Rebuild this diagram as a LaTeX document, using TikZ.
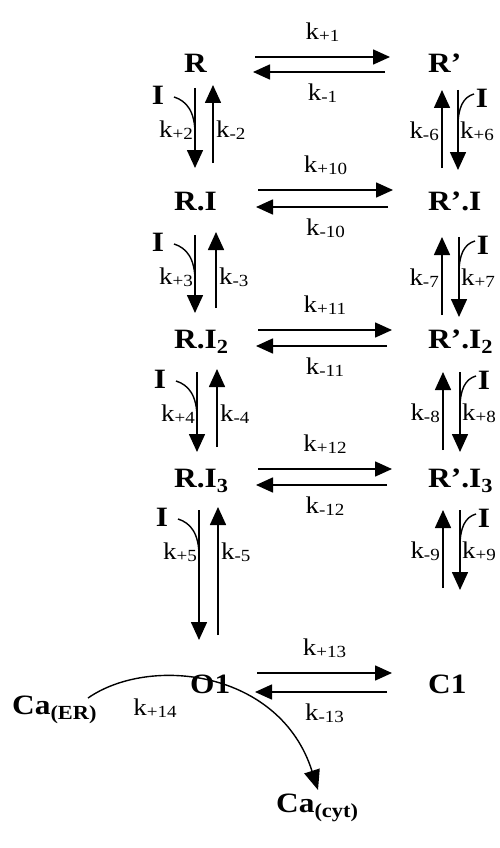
\documentclass[tikz,border=0pt]{standalone}
\usepackage{fontspec}
\setmainfont{Liberation Serif}[FakeStretch=1.12]
\usetikzlibrary{arrows.meta}

% rate constant label: k with a slightly lowered, smaller index
\newcommand\kr[1]{k\raisebox{-2pt}{\fontsize{17}{17}\selectfont #1}}
% bold subscript for species
\newcommand\sbs[1]{\raisebox{-5pt}{\fontsize{20}{20}\selectfont #1}}

\tikzset{
  species/.style={font=\fontsize{28}{28}\selectfont\bfseries, inner sep=0pt, anchor=base west},
  rate/.style={font=\fontsize{24}{24}\selectfont, inner sep=0pt},
  inhib/.style={font=\fontsize{28}{28}\selectfont\bfseries, inner sep=0pt},
  rx/.style={line width=1.6pt, -{Triangle[length=17pt,width=15pt]}},
  vx/.style={line width=1.6pt, -{Triangle[length=18pt,width=16pt]}},
  bind/.style={line width=1.4pt},
}

% vertical pair on the left column: down arrow (with I joining) and up arrow
\newcommand\leftpair[6]{% top, bottom, xdown, xup, k+, k-
  \draw[vx] (#3,#1) -- (#3,#2);
  \draw[vx] (#4,#2-5) -- (#4,#1-3);
  \draw[bind] (#3-21,#1+9) .. controls (#3-8,#1+13) and (#3,#1+24) .. (#3,#1+46);
  \node[inhib] at (#3-37,#1+7) {I};
  \node[rate, anchor=east] at (#3-2,#1+42) {\kr{#5}};
  \node[rate, anchor=west] at (#4+3,#1+42) {\kr{#6}};
}
% vertical pair on the right column: up arrow and down arrow (with I joining)
\newcommand\rightpair[6]{% top, bottom, xup, xdown, k-, k+
  \draw[vx] (#3,#2-2) -- (#3,#1);
  \draw[vx] (#4,#1) -- (#4,#2);
  \draw[bind] (#4+16,#1+4) .. controls (#4+5,#1+7) and (#4,#1+18) .. (#4,#1+36);
  \node[inhib] at (#4+24,#1+8) {I};
  \node[rate, anchor=east] at (#3-3,#1+41) {\kr{#5}};
  \node[rate, anchor=west] at (#4+2,#1+41) {\kr{#6}};
}
% pair of opposite horizontal arrows between two species
\newcommand\hpair[6]{% ytop, ybottom, x1, x2, k+, k-
  \draw[rx] (#3,#1) -- (#4,#1);
  \draw[rx] (#4-5,#2) -- (#3-2,#2);
  \node[rate] at ({(#3+#4)/2},#1-25) {\kr{#5}};
  \node[rate] at ({(#3+#4)/2},#2+21) {\kr{#6}};
}

\begin{document}
\begin{tikzpicture}[x=1pt,y=-1pt]
\useasboundingbox (0,0) rectangle (500,848);

% species
\node[species] (R)    at (184,73)  {R};
\node[species] (Rp)   at (428,73)  {R’};
\node[species] (RI)   at (174,210) {R.I};
\node[species] (RpI)  at (428,210) {R’.I};
\node[species] (RI2)  at (174,348) {R.I\sbs{2}};
\node[species] (RpI2) at (428,348) {R’.I\sbs{2}};
\node[species] (RI3)  at (174,487) {R.I\sbs{3}};
\node[species] (RpI3) at (428,487) {R’.I\sbs{3}};
\node[species] (O1)   at (190,693) {O1};
\node[species] (C1)   at (428,693) {C1};
\node[species] (CaER) at (12,714)  {Ca\sbs{(ER)}};
\node[species] (Cacyt) at (276,812) {Ca\sbs{(cyt)}};

% horizontal equilibria
\hpair{57}{72}{255}{390}{+1}{-1}
\hpair{190}{207}{258}{393}{+10}{-10}
\hpair{330}{346}{258}{392}{+11}{-11}
\hpair{469}{485}{258}{392}{+12}{-12}
\hpair{673}{692}{257}{392}{+13}{-13}

% binding steps, left column
\leftpair{88}{168}{195}{213}{+2}{-2}
\leftpair{235}{313}{195}{216}{+3}{-3}
\leftpair{372}{452}{197}{217}{+4}{-4}
\leftpair{510}{640}{199}{218}{+5}{-5}

% binding steps, right column
\rightpair{90}{170}{442}{458}{-6}{+6}
\rightpair{237}{317}{442}{459}{-7}{+7}
\rightpair{372}{452}{443}{460}{-8}{+8}
\rightpair{510}{590}{443}{460}{-9}{+9}

% calcium release through the open state
\coordinate (caS) at (88,698);
\coordinate (caE) at (318,790);
\draw[line width=1.4pt, -{Triangle[length=20pt,width=16pt]}]
  (caS) .. controls (150,655) and (280,670) .. (caE);
\node[rate] at (155,708) {\kr{+14}};
\end{tikzpicture}
\end{document}
